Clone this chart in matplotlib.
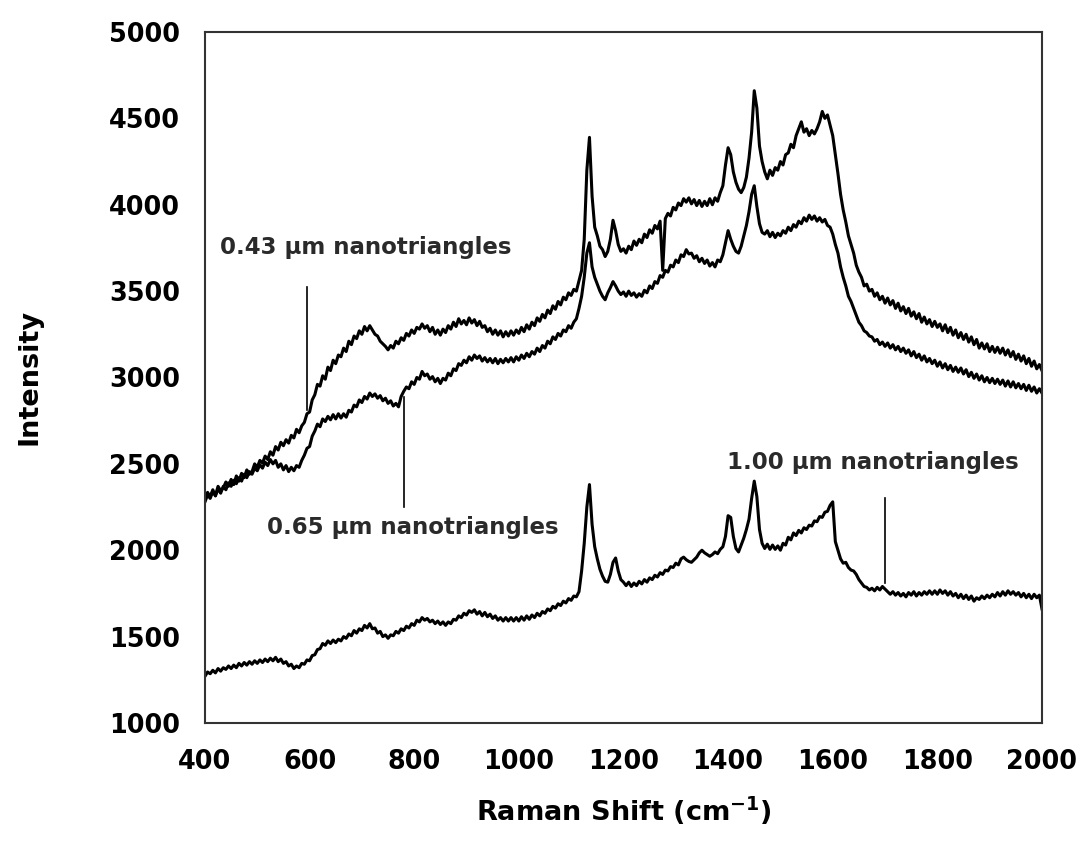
import numpy as np
import matplotlib
matplotlib.use("Agg")
import matplotlib.pyplot as plt

# Raman spectra of Au nanotriangle films, 400-2000 cm-1 sampled every 5 cm-1
shift = np.arange(400, 2001, 5)

tri_043 = [
    2290, 2335, 2310, 2350, 2315, 2370, 2345, 2360, 2395, 2370, 2410, 2380, 2430, 2400, 2445, 2420, 2465, 2440, 2455, 2500,
    2480, 2520, 2505, 2545, 2525, 2570, 2550, 2600, 2580, 2625, 2605, 2640, 2620, 2665, 2650, 2700, 2680, 2720, 2740, 2790,
    2800, 2870, 2900, 2960, 2950, 3010, 2990, 3060, 3040, 3100, 3080, 3130, 3120, 3170, 3150, 3210, 3190, 3240, 3225, 3270,
    3250, 3295, 3270, 3300, 3275, 3250, 3240, 3210, 3195, 3180, 3160, 3185, 3170, 3210, 3195, 3230, 3215, 3255, 3240, 3275,
    3255, 3290, 3280, 3310, 3285, 3300, 3265, 3290, 3250, 3275, 3245, 3280, 3260, 3300, 3280, 3320, 3295, 3340, 3310, 3330,
    3305, 3345, 3315, 3335, 3300, 3325, 3290, 3300, 3265, 3285, 3250, 3275, 3245, 3270, 3235, 3265, 3240, 3270, 3245, 3275,
    3255, 3290, 3265, 3305, 3280, 3320, 3300, 3345, 3325, 3365, 3345, 3390, 3370, 3415, 3395, 3440, 3420, 3465, 3450, 3490,
    3475, 3510, 3500, 3560, 3620, 3800, 4200, 4390, 4050, 3870, 3820, 3760, 3740, 3700, 3730, 3800, 3910, 3850, 3770, 3730,
    3745, 3720, 3760, 3740, 3790, 3765, 3800, 3780, 3830, 3810, 3855, 3835, 3880, 3860, 3905, 3620, 3920, 3950, 3935, 3985,
    3970, 4010, 3995, 4035, 4015, 4040, 4005, 4030, 3995, 4025, 3990, 4020, 3995, 4035, 4000, 4040, 4020, 4070, 4110, 4230,
    4330, 4290, 4190, 4130, 4090, 4070, 4100, 4160, 4270, 4420, 4660, 4560, 4340, 4250, 4190, 4150, 4200, 4170, 4215, 4200,
    4250, 4230, 4290, 4300, 4350, 4330, 4400, 4440, 4480, 4420, 4440, 4400, 4430, 4410, 4440, 4480, 4540, 4500, 4520, 4460,
    4400, 4290, 4180, 4060, 3970, 3900, 3820, 3770, 3720, 3650, 3610, 3580, 3530, 3540, 3500, 3510, 3470, 3490, 3450, 3470,
    3430, 3460, 3420, 3445, 3400, 3430, 3385, 3410, 3370, 3400, 3355, 3380, 3340, 3370, 3320, 3350, 3310, 3335, 3295, 3325,
    3290, 3310, 3270, 3305, 3260, 3290, 3245, 3275, 3230, 3260, 3220, 3250, 3205, 3235, 3190, 3220, 3170, 3200, 3165, 3195,
    3150, 3180, 3145, 3175, 3140, 3170, 3130, 3160, 3120, 3150, 3105, 3135, 3095, 3125, 3080, 3110, 3065, 3095, 3050, 3075,
    3040,
]

tri_065 = [
    2280, 2320, 2300, 2340, 2315, 2355, 2330, 2370, 2350, 2390, 2370, 2405, 2385, 2420, 2400, 2440, 2420, 2455, 2440, 2475,
    2460, 2495, 2475, 2510, 2490, 2525, 2500, 2520, 2480, 2500, 2465, 2490, 2455, 2480, 2460, 2490, 2480, 2520, 2550, 2590,
    2600, 2660, 2690, 2730, 2715, 2760, 2745, 2775, 2755, 2785, 2760, 2790, 2765, 2790, 2770, 2810, 2800, 2840, 2830, 2870,
    2855, 2890, 2875, 2910, 2890, 2905, 2880, 2895, 2865, 2880, 2850, 2865, 2835, 2850, 2830, 2890, 2920, 2945, 2935, 2975,
    2960, 3000, 2990, 3035, 3010, 3020, 2990, 3005, 2975, 2995, 2965, 2995, 2985, 3025, 3010, 3050, 3040, 3080, 3070, 3100,
    3085, 3120, 3100, 3130, 3110, 3125, 3095, 3115, 3090, 3110, 3085, 3110, 3080, 3105, 3085, 3110, 3090, 3115, 3090, 3120,
    3100, 3130, 3110, 3140, 3120, 3150, 3135, 3170, 3150, 3185, 3170, 3210, 3195, 3235, 3220, 3255, 3240, 3275, 3265, 3300,
    3285, 3320, 3340, 3400, 3470, 3580, 3720, 3780, 3640, 3580, 3540, 3500, 3470, 3450, 3490, 3520, 3555, 3530, 3500, 3480,
    3495, 3470, 3500, 3475, 3490, 3465, 3485, 3470, 3505, 3490, 3530, 3515, 3555, 3545, 3590, 3580, 3620, 3610, 3650, 3640,
    3680, 3665, 3710, 3700, 3740, 3715, 3720, 3690, 3705, 3670, 3690, 3660, 3680, 3645, 3665, 3640, 3680, 3670, 3710, 3780,
    3850, 3800, 3760, 3730, 3720, 3760, 3820, 3880, 3960, 4060, 4110, 3990, 3890, 3840, 3830, 3850, 3815, 3840, 3810, 3835,
    3820, 3850, 3835, 3870, 3850, 3885, 3870, 3905, 3890, 3925, 3905, 3940, 3915, 3935, 3905, 3925, 3900, 3915, 3880, 3870,
    3830, 3770, 3720, 3640, 3580, 3530, 3470, 3440, 3400, 3360, 3320, 3300, 3270, 3260, 3240, 3235, 3210, 3220, 3190, 3205,
    3180, 3200, 3170, 3190, 3160, 3180, 3150, 3170, 3140, 3160, 3125, 3150, 3115, 3135, 3100, 3125, 3090, 3110, 3080, 3100,
    3065, 3090, 3055, 3080, 3045, 3070, 3035, 3060, 3030, 3055, 3020, 3045, 3005, 3030, 2995, 3020, 2985, 3010, 2975, 3000,
    2970, 2995, 2965, 2990, 2960, 2985, 2950, 2980, 2945, 2975, 2940, 2965, 2935, 2960, 2925, 2955, 2920, 2945, 2910, 2935,
    2910,
]

tri_100 = [
    1270, 1295, 1285, 1305, 1290, 1315, 1300, 1320, 1310, 1330, 1315, 1335, 1320, 1345, 1330, 1350, 1335, 1355, 1340, 1360,
    1345, 1365, 1350, 1370, 1355, 1375, 1360, 1380, 1355, 1370, 1345, 1355, 1330, 1340, 1315, 1330, 1320, 1345, 1340, 1365,
    1360, 1390, 1395, 1425, 1430, 1460, 1450, 1475, 1460, 1480, 1465, 1485, 1475, 1500, 1490, 1515, 1505, 1535, 1520, 1545,
    1535, 1565, 1550, 1575, 1545, 1550, 1520, 1530, 1500, 1510, 1490, 1510, 1505, 1530, 1520, 1545, 1535, 1560, 1550, 1575,
    1565, 1595, 1585, 1610, 1595, 1605, 1585, 1595, 1575, 1590, 1570, 1585, 1565, 1585, 1575, 1600, 1595, 1620, 1610, 1635,
    1625, 1650, 1640, 1655, 1630, 1645, 1620, 1640, 1615, 1630, 1605, 1620, 1595, 1610, 1590, 1610, 1590, 1610, 1590, 1610,
    1590, 1615, 1595, 1620, 1600, 1625, 1610, 1635, 1620, 1645, 1635, 1660, 1650, 1675, 1665, 1690, 1680, 1705, 1695, 1720,
    1710, 1735, 1730, 1760, 1880, 2040, 2250, 2380, 2150, 2020, 1950, 1890, 1850, 1820, 1815, 1860, 1930, 1955, 1880, 1830,
    1815, 1795, 1815, 1790, 1810, 1795, 1820, 1805, 1830, 1815, 1840, 1830, 1855, 1845, 1870, 1860, 1885, 1880, 1905, 1900,
    1925, 1915, 1950, 1960, 1945, 1935, 1930, 1945, 1960, 1985, 2000, 1985, 1975, 1965, 1975, 1990, 1980, 2005, 2020, 2080,
    2200, 2190, 2080, 2010, 1990, 2030, 2070, 2120, 2180, 2300, 2400, 2310, 2120, 2040, 2010, 2035, 2005, 2030, 2005, 2025,
    2000, 2040, 2030, 2075, 2060, 2100, 2085, 2115, 2100, 2130, 2120, 2145, 2140, 2170, 2165, 2195, 2190, 2220, 2225, 2260,
    2280, 2050, 2000, 1950, 1925, 1930, 1900, 1885, 1880, 1860, 1830, 1810, 1790, 1785, 1770, 1780, 1765, 1785, 1770, 1790,
    1775, 1760, 1745, 1760, 1740, 1755, 1735, 1750, 1730, 1755, 1740, 1760, 1735, 1755, 1740, 1760, 1745, 1765, 1745, 1765,
    1745, 1770, 1750, 1765, 1740, 1760, 1735, 1750, 1725, 1745, 1720, 1740, 1715, 1735, 1705, 1725, 1715, 1735, 1720, 1740,
    1725, 1745, 1730, 1755, 1735, 1760, 1740, 1765, 1745, 1760, 1740, 1755, 1730, 1750, 1725, 1745, 1720, 1745, 1725, 1740,
    1660,
]

labels = ["0.43 µm nanotriangles", "0.65 µm nanotriangles", "1.00 µm nanotriangles"]

plt.rcParams["font.family"] = "DejaVu Sans"
plt.rcParams["font.weight"] = "bold"

fig = plt.figure(figsize=(10.81, 8.44), dpi=100)
ax = fig.add_axes([0.1896, 0.1434, 0.7743, 0.8187])

for spec in (tri_043, tri_065, tri_100):
    ax.plot(shift, spec, color="black", lw=2.2)

# pointer lines and labels for each spectrum
ax.plot([595, 595], [2810, 3525], color="black", lw=1.2)
ax.plot([780, 780], [2250, 2887], color="black", lw=1.2)
ax.plot([1700, 1700], [1810, 2302], color="black", lw=1.2)
ax.text(429, 3755, labels[0], fontsize=16.5, fontweight="bold", color="#2a2a2a", va="center", ha="left")
ax.text(519, 2129, labels[1], fontsize=16.5, fontweight="bold", color="#2a2a2a", va="center", ha="left")
ax.text(1398, 2505, labels[2], fontsize=16.5, fontweight="bold", color="#2a2a2a", va="center", ha="left")

ax.set_xlim(400, 2000)
ax.set_ylim(1000, 5000)
ax.set_xticks(np.arange(400, 2001, 200))
ax.set_yticks(np.arange(1000, 5001, 500))
ax.tick_params(length=0, labelsize=18.4, pad=18)
ax.tick_params(axis="x", pad=19)
for spine in ax.spines.values():
    spine.set_color("#333333")
    spine.set_linewidth(1.5)

ax.set_xlabel("Raman Shift (cm$^{\\mathbf{-1}}$)", fontsize=19.5, fontweight="bold", labelpad=14)
ax.set_ylabel("Intensity", fontsize=19.5, fontweight="bold", labelpad=48)

fig.savefig("out.png", dpi=100)
